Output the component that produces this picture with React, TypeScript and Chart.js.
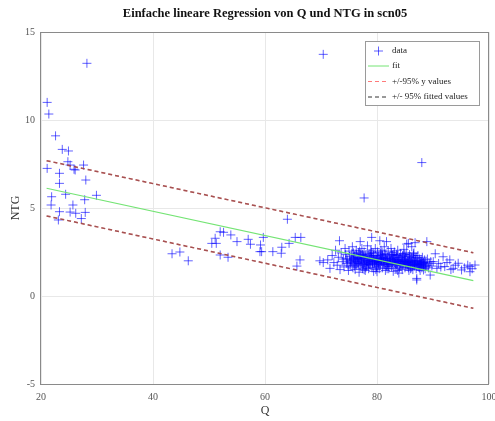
import React, { useEffect, useRef } from "react";
import { Chart, registerables } from "chart.js";

Chart.register(...registerables);

const TITLE = "Einfache lineare Regression von Q und NTG in scn05";
const X_LABEL = "Q";
const Y_LABEL = "NTG";
const X_MIN = 20;
const X_MAX = 100;
const Y_MIN = -5;
const Y_MAX = 15;
const xTickStep = 20;
const yTickStep = 5;
const legendLabels = ["data", "fit", "+/-95% y values", "+/- 95% fitted values"];

// data points [Q, NTG]
const leftPoints: [number, number][] = [
  [28.2, 13.22], [21.1, 11.0], [21.4, 10.34], [22.6, 9.1], [23.8, 8.33], [24.9, 8.24],
  [24.8, 7.63], [25.2, 7.44], [21.1, 7.25], [23.3, 6.97], [25.9, 7.2], [26.1, 7.16],
  [27.6, 7.44], [28.0, 6.59], [23.3, 6.4], [24.4, 5.78], [29.9, 5.72], [21.9, 5.64],
  [27.8, 5.47], [21.8, 5.17], [25.7, 5.17], [23.3, 4.79], [25.2, 4.77], [26.2, 4.7],
  [27.9, 4.75], [23.1, 4.32], [27.2, 4.4],
];

const middlePoints: [number, number][] = [
  [43.4, 2.4], [44.8, 2.5], [46.3, 2.0], [50.5, 2.99], [51.1, 3.28], [51.3, 2.99],
  [52.0, 3.65], [52.6, 3.62], [53.9, 3.47], [52.0, 2.33], [53.4, 2.2], [55.0, 3.09],
  [57.0, 3.22], [57.4, 2.94], [59.7, 3.33], [59.2, 2.9], [59.1, 2.52], [59.4, 2.52],
  [61.4, 2.52], [63.0, 2.77], [62.9, 2.43], [64.0, 4.36], [64.3, 2.99], [65.4, 3.33],
  [66.4, 3.33], [65.7, 1.7], [66.25, 2.05], [69.8, 2.0], [70.4, 1.9],
];

const outlierPoints: [number, number][] = [
  [70.4, 13.73], [88.0, 7.58], [77.7, 5.57],
];

const clusterPoints: [number, number][] = [
  [71.2, 2.05], [71.6, 1.57], [72.0, 2.3], [72.3, 1.9], [72.6, 2.6], [72.9, 1.75], [73.1, 2.2],
  [73.3, 3.14], [73.4, 1.5], [73.6, 2.45], [73.8, 1.95], [74.0, 2.1], [74.1, 1.65], [74.3, 2.7],
  [74.4, 2.35], [74.6, 1.85], [74.7, 2.05], [74.9, 1.45], [75.0, 2.55], [75.1, 2.25], [75.2, 1.7],
  [75.4, 1.95], [75.5, 2.4], [75.6, 2.8], [75.7, 1.6], [75.8, 2.15], [75.9, 1.85], [76.0, 2.3],
  [76.1, 1.5], [76.2, 2.0], [76.3, 2.6], [76.4, 1.75], [76.5, 2.2], [76.6, 1.9], [76.7, 2.45],
  [76.8, 1.35], [76.9, 2.05], [77.0, 3.09], [77.0, 1.65], [77.1, 2.3], [77.2, 1.95], [77.3, 2.7],
  [77.4, 1.55], [77.5, 2.15], [77.6, 1.8], [77.7, 2.5], [77.8, 2.0], [77.9, 1.45], [78.0, 2.35],
  [78.1, 1.7], [78.2, 2.1], [78.3, 2.85], [78.4, 1.9], [78.5, 1.55], [78.6, 2.4], [78.7, 2.0],
  [78.8, 1.75], [78.9, 2.6], [79.0, 2.2], [79.05, 3.33], [79.1, 1.6], [79.2, 1.95], [79.3, 2.45],
  [79.4, 1.4], [79.5, 2.1], [79.6, 1.8], [79.7, 2.7], [79.8, 2.3], [79.9, 1.65], [80.0, 1.38],
  [80.0, 2.0], [80.1, 2.5], [80.2, 1.85], [80.3, 2.25], [80.4, 1.55], [80.5, 3.14], [80.5, 2.05],
  [80.6, 1.75], [80.7, 2.6], [80.8, 1.95], [80.9, 2.35], [81.0, 1.6], [81.1, 2.15], [81.2, 1.85],
  [81.3, 2.8], [81.4, 2.0], [81.5, 1.45], [81.6, 2.4], [81.7, 3.09], [81.7, 1.7], [81.8, 2.1],
  [81.9, 1.9], [82.0, 2.55], [82.1, 1.55], [82.2, 2.25], [82.3, 1.8], [82.4, 2.0], [82.5, 2.7],
  [82.6, 1.65], [82.7, 2.3], [82.8, 1.9], [82.9, 1.4], [83.0, 2.15], [83.1, 2.5], [83.2, 1.75],
  [83.3, 2.05], [83.4, 1.55], [83.5, 2.35], [83.6, 1.85], [83.7, 2.6], [83.8, 1.95], [83.9, 1.3],
  [84.0, 2.2], [84.1, 1.7], [84.2, 2.4], [84.3, 1.9], [84.4, 2.05], [84.5, 1.5], [84.6, 2.3],
  [84.7, 1.8], [84.8, 2.65], [84.9, 2.0], [85.0, 1.6], [85.1, 2.2], [85.2, 1.85], [85.3, 2.95],
  [85.3, 2.45], [85.4, 1.7], [85.5, 2.1], [85.6, 2.99], [85.6, 1.9], [85.7, 1.45], [85.8, 2.35],
  [85.9, 1.75], [86.0, 2.05], [86.1, 1.6], [86.2, 2.8], [86.2, 2.2], [86.3, 1.85], [86.4, 1.5],
  [86.5, 2.4], [86.6, 1.95], [86.7, 1.7], [86.8, 3.03], [86.8, 2.15], [86.9, 1.8], [87.0, 1.55],
  [87.1, 1.0], [87.1, 0.91], [87.2, 2.0], [87.3, 2.3], [87.4, 1.65], [87.5, 1.9], [87.6, 2.1],
  [87.7, 1.45], [87.8, 1.75], [87.9, 2.0], [88.0, 1.6], [88.1, 2.2], [88.2, 1.85], [88.3, 1.48],
  [88.4, 1.7], [88.5, 2.05], [88.6, 1.55], [88.7, 1.9], [88.9, 3.09], [88.9, 1.75], [89.0, 2.1],
  [89.2, 1.6], [89.4, 1.85], [89.5, 1.19], [89.6, 1.95], [89.8, 1.7],
  [75.3, 2.0], [75.9, 2.2], [76.4, 1.95], [76.8, 2.1], [77.3, 1.85], [77.6, 2.25], [78.1, 2.0],
  [78.5, 1.85], [78.8, 2.25], [79.3, 2.05], [79.6, 1.9], [80.1, 2.15], [80.4, 1.95], [80.8, 2.1],
  [81.2, 2.05], [81.5, 1.9], [81.9, 2.2], [82.3, 1.95], [82.7, 2.05], [83.1, 1.9], [83.4, 2.2],
  [83.8, 2.0], [84.2, 1.85], [84.6, 2.0], [85.0, 1.95], [85.4, 1.85], [85.8, 2.0], [86.3, 1.75],
  [86.7, 1.9], [87.2, 1.7], [87.7, 1.85], [88.2, 1.65], [76.0, 1.7], [77.0, 2.4], [78.0, 1.6],
  [79.0, 2.5], [80.0, 1.7], [81.0, 2.3], [82.0, 1.7], [83.0, 2.35], [84.0, 1.6], [85.0, 2.35],
  [86.0, 1.55], [87.0, 2.2], [88.0, 1.95],
  [74.5, 2.15], [75.2, 1.9], [75.7, 2.1], [76.2, 1.8], [76.6, 2.15], [77.1, 2.05], [77.5, 1.75],
  [77.9, 2.2], [78.3, 1.95], [78.7, 1.8], [79.1, 2.15], [79.5, 1.95], [79.9, 2.1], [80.3, 1.8],
  [80.7, 2.0], [81.1, 1.95], [81.5, 2.15], [81.9, 1.8], [82.3, 2.1], [82.7, 1.85], [83.1, 2.05],
  [83.5, 1.8], [83.9, 2.1], [84.3, 1.75], [84.7, 1.95], [85.1, 1.8], [85.5, 1.95], [85.9, 1.9],
  [86.3, 2.0], [86.7, 1.8], [87.1, 1.85], [87.5, 1.75], [87.9, 1.8], [88.3, 1.9], [88.7, 1.7],
  [76.3, 2.35], [78.4, 2.3], [80.6, 2.4], [82.6, 2.45], [84.5, 2.25], [86.5, 2.3], [77.7, 1.5],
  [79.8, 1.5], [81.8, 1.55], [83.7, 1.45], [85.6, 1.6], [87.6, 1.6],
  [74.8, 1.75], [75.5, 2.05], [76.1, 2.1], [76.7, 1.85], [77.2, 2.15], [77.8, 1.9], [78.2, 1.8],
  [78.6, 2.05], [79.2, 1.85], [79.7, 2.0], [80.2, 1.9], [80.6, 2.2], [81.3, 1.8], [81.7, 2.0],
  [82.1, 1.9], [82.5, 2.15], [82.9, 1.95], [83.3, 1.85], [83.7, 2.05], [84.1, 1.95], [84.5, 1.8],
  [84.9, 2.1], [85.3, 1.9], [85.7, 1.8], [86.1, 1.95], [86.5, 1.75], [86.9, 2.0], [87.3, 1.8],
  [87.8, 1.95], [88.4, 1.8], [76.9, 2.55], [78.9, 2.4], [80.9, 2.5], [82.8, 2.35], [84.8, 2.4],
  [86.6, 2.45], [77.4, 2.35], [79.4, 2.3], [81.4, 2.35], [83.6, 2.3], [85.7, 2.25], [75.8, 2.45],
];

const tailPoints: [number, number][] = [
  [90.05, 1.95], [90.4, 2.4], [90.7, 1.57], [91.0, 1.85], [91.4, 1.65], [91.8, 2.23], [92.1, 1.67],
  [92.5, 1.9], [93.0, 2.05], [93.2, 1.5], [93.6, 1.57], [94.0, 1.75], [94.5, 1.86], [95.1, 1.48],
  [95.6, 1.6], [96.2, 1.75], [96.6, 1.67], [96.6, 1.38], [97.0, 1.55], [97.5, 1.76],
];

// regression line and bounds (start / end)
const lineQ = [21, 97.2];
const fitNTG = [6.12, 0.87];
const upperNTG = [7.69, 2.46];
const lowerNTG = [4.55, -0.7];

const SERIF = "'Liberation Serif', 'DejaVu Serif', serif";

const COLORS = {
  data: "rgba(0, 0, 255, 0.62)",
  fit: "#74e474",
  yBounds: "rgba(225, 90, 90, 0.9)",
  fittedBounds: "rgba(60, 40, 40, 0.38)",
  legendY: "#ff7a7a",
  legendFitted: "#333333",
  grid: "#e8e8e8",
  frame: "#8a8a8a",
  tick: "#555555",
};

function toXY(arr: [number, number][]) {
  return arr.map(([x, y]) => ({ x, y }));
}

function boundsData() {
  return [
    { x: lineQ[0], y: upperNTG[0] },
    { x: lineQ[1], y: upperNTG[1] },
    { x: lineQ[1], y: NaN },
    { x: lineQ[0], y: lowerNTG[0] },
    { x: lineQ[1], y: lowerNTG[1] },
  ];
}

const decorPlugin = {
  id: "decor",
  afterDraw(chart: any) {
    const { ctx, chartArea } = chart;
    const { left, right, top, bottom } = chartArea;
    ctx.save();
    // frame
    ctx.strokeStyle = COLORS.frame;
    ctx.lineWidth = 1;
    ctx.strokeRect(Math.round(left) - 0.5, Math.round(top) + 0.5, Math.round(right - left), Math.round(bottom - top));
    // title
    ctx.fillStyle = "#111";
    ctx.font = `bold 12.5px ${SERIF}`;
    ctx.textAlign = "center";
    ctx.textBaseline = "middle";
    ctx.fillText(TITLE, (left + right) / 2, 14);

    // legend
    const bx = right - 124;
    const by = top + 9;
    const bw = 114;
    const bh = 64;
    ctx.fillStyle = "#ffffff";
    ctx.fillRect(bx, by, bw, bh);
    ctx.strokeStyle = "#9a9a9a";
    ctx.strokeRect(bx + 0.5, by + 0.5, bw, bh);
    const rowY = [by + 10, by + 25, by + 40.5, by + 56];
    const sx0 = bx + 3;
    const sx1 = bx + 24;
    const tx = bx + 27;
    // data marker
    ctx.strokeStyle = COLORS.data;
    ctx.lineWidth = 1;
    ctx.beginPath();
    ctx.moveTo((sx0 + sx1) / 2 - 4.5, rowY[0]);
    ctx.lineTo((sx0 + sx1) / 2 + 4.5, rowY[0]);
    ctx.moveTo((sx0 + sx1) / 2, rowY[0] - 4.5);
    ctx.lineTo((sx0 + sx1) / 2, rowY[0] + 4.5);
    ctx.stroke();
    // fit
    ctx.strokeStyle = COLORS.fit;
    ctx.beginPath();
    ctx.moveTo(sx0, rowY[1]);
    ctx.lineTo(sx1, rowY[1]);
    ctx.stroke();
    // dashed
    ctx.setLineDash([4, 3]);
    ctx.strokeStyle = COLORS.legendY;
    ctx.beginPath();
    ctx.moveTo(sx0, rowY[2]);
    ctx.lineTo(sx1, rowY[2]);
    ctx.stroke();
    ctx.strokeStyle = COLORS.legendFitted;
    ctx.beginPath();
    ctx.moveTo(sx0, rowY[3]);
    ctx.lineTo(sx1, rowY[3]);
    ctx.stroke();
    ctx.setLineDash([]);
    ctx.fillStyle = "#222";
    ctx.font = `9px ${SERIF}`;
    ctx.textAlign = "left";
    ctx.textBaseline = "middle";
    legendLabels.forEach((label, i) => ctx.fillText(label, tx, rowY[i]));
    ctx.restore();
  },
};

export default function App() {
  const canvasRef = useRef<HTMLCanvasElement | null>(null);

  useEffect(() => {
    const canvas = canvasRef.current;
    if (!canvas) return;
    const allPoints = [...leftPoints, ...middlePoints, ...outlierPoints, ...clusterPoints, ...tailPoints];
    const chart = new Chart(canvas, {
      type: "scatter",
      data: {
        datasets: [
          {
            label: legendLabels[0],
            data: toXY(allPoints),
            pointStyle: "cross",
            pointRadius: 4.5,
            pointBorderWidth: 1,
            borderColor: COLORS.data,
            backgroundColor: COLORS.data,
            showLine: false,
            order: 10,
          },
          {
            label: legendLabels[1],
            data: [
              { x: lineQ[0], y: fitNTG[0] },
              { x: lineQ[1], y: fitNTG[1] },
            ],
            showLine: true,
            pointRadius: 0,
            borderColor: COLORS.fit,
            borderWidth: 1.2,
            order: 2,
          },
          {
            label: legendLabels[2],
            data: boundsData(),
            showLine: true,
            spanGaps: false,
            pointRadius: 0,
            borderColor: COLORS.yBounds,
            borderWidth: 1.5,
            borderDash: [4, 3],
            order: 1,
          },
          {
            label: legendLabels[3],
            data: boundsData(),
            showLine: true,
            spanGaps: false,
            pointRadius: 0,
            borderColor: COLORS.fittedBounds,
            borderWidth: 1.5,
            borderDash: [4, 3],
            order: 0,
          },
        ],
      },
      options: {
        responsive: false,
        animation: false,
        events: [],
        layout: { padding: { top: 32, right: 6, left: 0, bottom: 0 } },
        plugins: {
          legend: { display: false },
          title: { display: false },
          tooltip: { enabled: false },
        },
        scales: {
          x: {
            type: "linear",
            min: X_MIN,
            max: X_MAX,
            afterFit: (s: any) => {
              s.height = 37;
              s.paddingLeft = 0;
              s.paddingRight = 0;
            },
            ticks: {
              stepSize: xTickStep,
              padding: 7,
              color: COLORS.tick,
              font: { family: SERIF, size: 10 },
              maxRotation: 0,
            },
            grid: { color: COLORS.grid, drawTicks: false },
            border: { display: false },
            title: {
              display: true,
              text: X_LABEL,
              color: "#333",
              font: { family: SERIF, size: 12 },
              padding: { top: 0, bottom: 3 },
            },
          },
          y: {
            type: "linear",
            min: Y_MIN,
            max: Y_MAX,
            afterFit: (s: any) => {
              s.width = 41;
              s.paddingTop = 0;
              s.paddingBottom = 0;
            },
            ticks: {
              stepSize: yTickStep,
              padding: 6,
              color: COLORS.tick,
              font: { family: SERIF, size: 10 },
            },
            grid: { color: COLORS.grid, drawTicks: false },
            border: { display: false },
            title: {
              display: true,
              text: Y_LABEL,
              color: "#333",
              font: { family: SERIF, size: 12 },
              padding: { top: 9, bottom: 0 },
            },
          },
        },
      },
      plugins: [decorPlugin],
    });
    return () => chart.destroy();
  }, []);

  return (
    <div style={{ position: "absolute", left: 0, top: 0, width: 495, height: 421, background: "#fff" }}>
      <canvas ref={canvasRef} width={495} height={421} />
    </div>
  );
}
